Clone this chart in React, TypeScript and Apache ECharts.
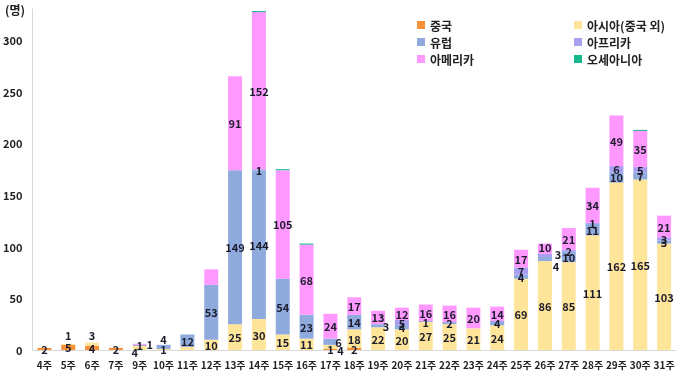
import React, { useEffect, useRef } from "react";
import * as echarts from "echarts";

const weeks = ["4주","5주","6주","7주","9주","10주","11주","12주","13주","14주","15주","16주","17주","18주","19주","20주","21주","22주","23주","24주","25주","26주","27주","28주","29주","30주","31주"];
const china    = [2,5,4,2,0,0,0,0,0,0,0,0,1,2,0,0,0,0,0,0,0,0,0,0,0,0,0];
const asia     = [0,1,3,0,4,1,3,10,25,30,15,11,4,18,22,20,27,25,21,24,69,86,85,111,162,165,103];
const europe   = [0,0,0,0,1,4,12,53,149,144,54,23,6,14,3,4,1,2,0,4,4,4,10,11,10,7,3];
const africa   = [0,0,0,0,0,0,0,0,0,1,0,0,0,0,0,5,0,0,0,0,7,3,2,1,6,5,3];
const america  = [0,0,0,0,1,0,0,15,91,152,105,68,24,17,13,12,16,16,20,14,17,10,21,34,49,35,21];
const oceania  = [0,0,0,0,0,0,0,0,0,1,1,1,0,0,0,0,0,0,0,0,0,0,0,0,0,1,0];
// segments whose value labels are not shown in the reference: [seriesName, index]
const hiddenLabels: [string, number][] = [["아시아(중국 외)", 6], ["아메리카", 7], ["오세아니아", 9], ["오세아니아", 10], ["오세아니아", 11], ["오세아니아", 25]];
// label nudges (style only): [seriesName, index, dx, dy]
const labelNudges: [string, number, number, number][] = [
  ["아시아(중국 외)", 1, 0, -9],
  ["아시아(중국 외)", 2, 0, -9],
  ["아시아(중국 외)", 4, -5, 4],
  ["아메리카", 4, 10, 0],
  ["유럽", 5, 0, -8],
  ["아시아(중국 외)", 12, 10, 3],
  ["유럽", 12, 8, 0],
  ["유럽", 14, 8, 0],
  ["유럽", 21, 11, 7],
  ["아프리카", 21, 13, -1],
  ["아메리카", 21, 0, -2],
];
const yTicks = [0, 50, 100, 150, 200, 250, 300];

const seriesDefs = [
  { name: "중국", data: china, color: "#f7923a" },
  { name: "아시아(중국 외)", data: asia, color: "#ffe599" },
  { name: "유럽", data: europe, color: "#8faadc" },
  { name: "아프리카", data: africa, color: "#a99ff0" },
  { name: "아메리카", data: america, color: "#ff99ff" },
  { name: "오세아니아", data: oceania, color: "#14b88a" },
];

const FONT = "'Noto Sans CJK KR', 'Noto Sans', sans-serif";

export default function App() {
  const ref = useRef<HTMLDivElement>(null);
  useEffect(() => {
    const chart = echarts.init(ref.current!, null, { renderer: "svg" });
    const series = seriesDefs.map((s) => ({
      name: s.name,
      type: "bar",
      stack: "total",
      barWidth: 14,
      itemStyle: { color: s.color },
      label: {
        show: true,
        position: "inside",
        color: "#1c1c2c",
        fontSize: 11,
        fontWeight: "bold",
        fontFamily: FONT,
        formatter: (p: any) => (p.value ? String(p.value) : ""),
      },
      data: s.data.map((v, i) => {
        if (hiddenLabels.some(([n, idx]) => n === s.name && idx === i)) return { value: v, label: { show: false } };
        const nudge = labelNudges.find(([n, idx]) => n === s.name && idx === i);
        if (nudge) return { value: v, label: { offset: [nudge[2], nudge[3]] } };
        return v;
      }),
    }));
    const legendText = { fontSize: 12, fontWeight: "bold", color: "#222", fontFamily: FONT };
    chart.setOption({
      animation: false,
      textStyle: { fontFamily: FONT },
      grid: { left: 31, right: 4, top: 9, bottom: 26 },
      legend: [
        {
          data: ["중국", "유럽", "아메리카"],
          orient: "vertical",
          left: 412,
          top: 14,
          itemWidth: 8,
          itemHeight: 8,
          itemGap: 5,
          icon: "rect",
          textStyle: legendText,
        },
        {
          data: ["아시아(중국 외)", "아프리카", "오세아니아"],
          orient: "vertical",
          left: 569,
          top: 14,
          itemWidth: 8,
          itemHeight: 8,
          itemGap: 5,
          icon: "rect",
          textStyle: legendText,
        },
      ],
      xAxis: {
        type: "category",
        data: weeks,
        axisLine: { lineStyle: { color: "#d9d9d9" } },
        axisTick: { show: false },
        axisLabel: { color: "#222", fontSize: 10, fontWeight: "bold", interval: 0, margin: 9, fontFamily: FONT },
      },
      yAxis: {
        type: "value",
        min: 0,
        max: 330,
        interval: 50,
        axisLine: { show: true, lineStyle: { color: "#d9d9d9" } },
        axisTick: { show: false },
        splitLine: { show: false },
        axisLabel: {
          color: "#222",
          fontSize: 11,
          fontWeight: "bold",
          showMaxLabel: false,
          margin: 10,
          fontFamily: FONT,
          formatter: (v: number) => (yTicks.includes(v) ? String(v) : ""),
        },
      },
      graphic: [
        {
          type: "text",
          left: 5,
          top: 3,
          style: { text: "(명)", fontSize: 12, fontWeight: "bold", fill: "#222", fontFamily: FONT },
        },
      ],
      series,
    });
    return () => chart.dispose();
  }, []);
  return <div ref={ref} style={{ position: "fixed", left: 0, top: 0, width: 680, height: 376 }} />;
}
